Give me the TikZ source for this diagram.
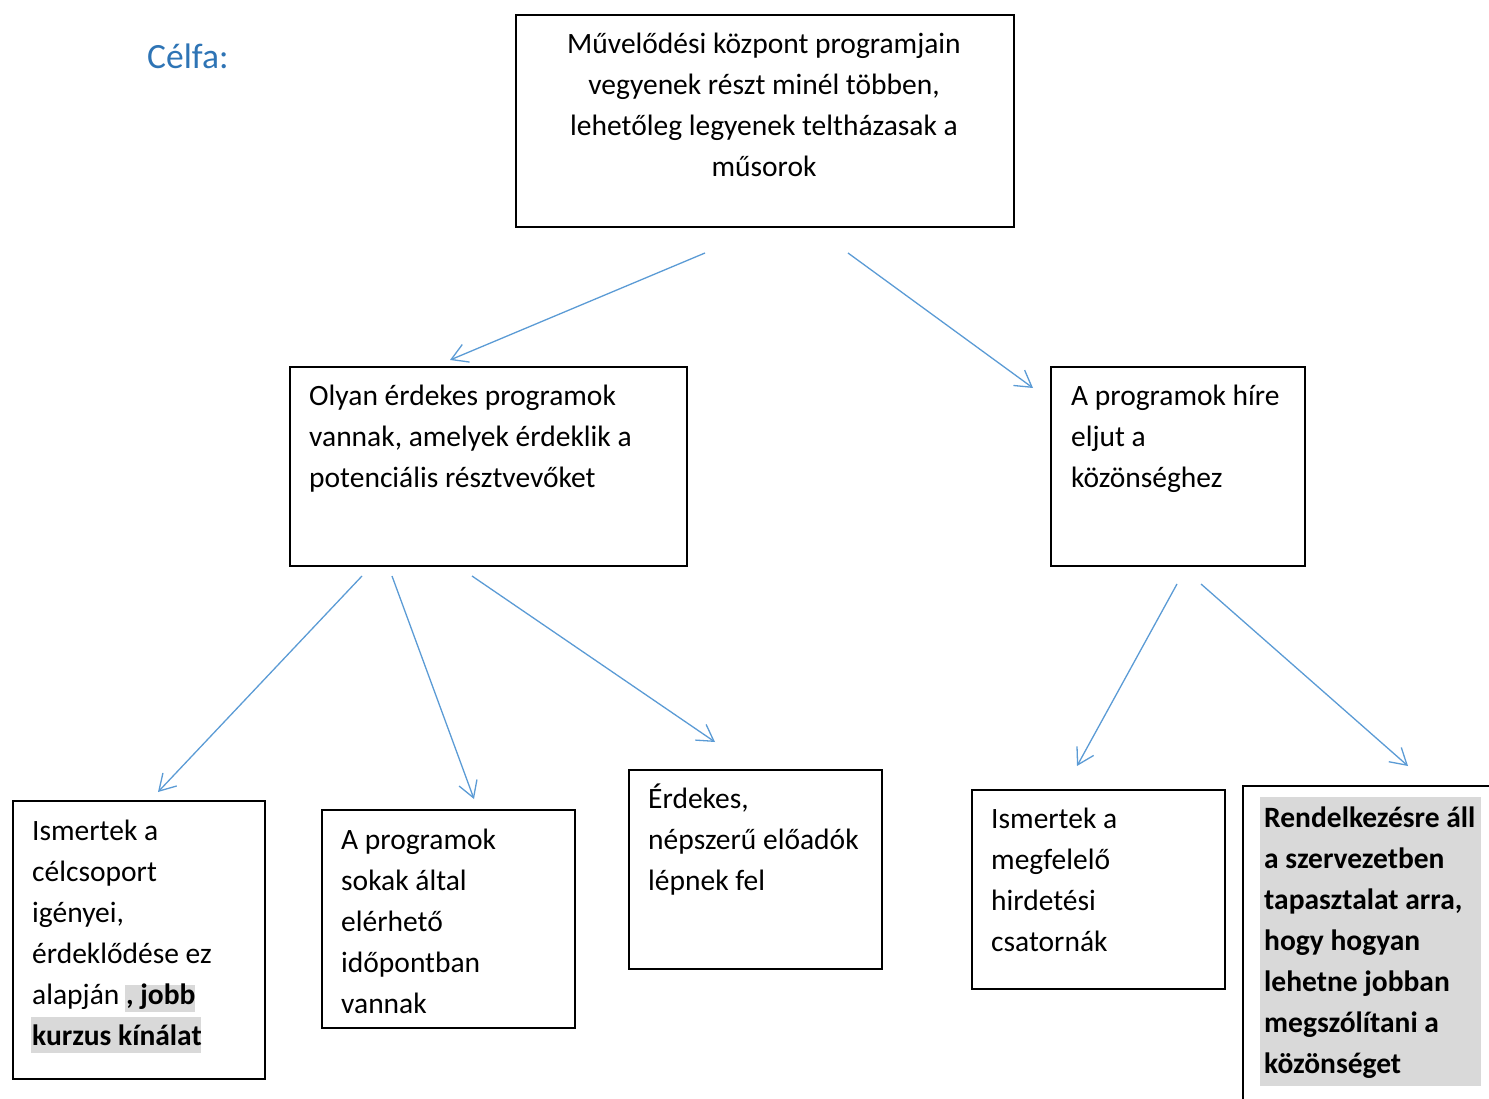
\documentclass[tikz,border=0pt]{standalone}
\usepackage{fontspec}
\setmainfont{Carlito}
\usetikzlibrary{arrows.meta,calc}
\definecolor{arrowblue}{HTML}{5B9BD5}
\definecolor{titleblue}{HTML}{2E74B5}
\definecolor{hlgray}{HTML}{D9D9D9}
\tikzset{
  box/.style={draw=black, line width=2pt, rectangle, inner sep=0pt, anchor=north west},
  txt/.style={inner sep=0pt, anchor=base west, align=left, font=\fontsize{29.5}{41}\selectfont},
  ctxt/.style={inner sep=0pt, anchor=base, align=center, font=\fontsize{29.5}{41}\selectfont},
  conn/.style={draw=arrowblue, line width=1.3pt, -{Straight Barb[length=16pt,width=19pt,line width=1.3pt]}}
}
\begin{document}
\begin{tikzpicture}[x=1pt,y=-1pt]
\useasboundingbox (0,0) rectangle (1489,1099);
% title
\node[inner sep=0pt, anchor=base west, text=titleblue, font=\fontsize{35.5}{42}\selectfont] (title) at (147,69) {Célfa:};
% boxes
\node[box, minimum width=498pt, minimum height=212pt] (top) at (515,14) {};
\node[box, minimum width=397pt, minimum height=199pt] (ml) at (289,366) {};
\node[box, minimum width=254pt, minimum height=199pt] (mr) at (1050,366) {};
\node[box, minimum width=252pt, minimum height=278pt] (b1) at (12,800) {};
\node[box, minimum width=253pt, minimum height=218pt] (b2) at (321,809) {};
\node[box, minimum width=253pt, minimum height=199pt] (b3) at (628,769) {};
\node[box, minimum width=253pt, minimum height=199pt] (b4) at (971,789) {};
\coordinate (b5bl) at (1243,1099);
\coordinate (b5tl) at (1243,786);
\coordinate (b5tr) at (1489,786);
\draw[line width=2pt] (b5bl) -- (b5tl) -- (b5tr);
% highlights
\fill[hlgray] (125,985) rectangle (195,1012);
\fill[hlgray] (31,1017) rectangle (201,1053);
\fill[hlgray] (1260,797) rectangle (1481,1086);
% texts (anchored at the baseline of the last line)
\node[ctxt] (ttop) at (764,177) {Művelődési központ programjain\\vegyenek részt minél többen,\\lehetőleg legyenek teltházasak a\\műsorok};
\node[txt] (tml) at (309,487) {Olyan érdekes programok\\vannak, amelyek érdeklik a\\potenciális résztvevőket};
\node[txt] (tmr) at (1071,487) {A programok híre\\eljut a\\közönséghez};
\node[txt] (tb1) at (32,1045) {Ismertek a\\célcsoport\\igényei,\\érdeklődése ez\\alapján \textbf{, jobb}\\\textbf{kurzus kínálat}};
\node[txt] (tb2) at (341,1013) {A programok\\sokak által\\elérhető\\időpontban\\vannak};
\node[txt] (tb3) at (648,890) {Érdekes,\\népszerű előadók\\lépnek fel};
\node[txt] (tb4) at (991,951) {Ismertek a\\megfelelő\\hirdetési\\csatornák};
\node[txt, font=\fontsize{29.5}{41}\selectfont\bfseries] (tb5) at (1264,1073) {Rendelkezésre áll\\a szervezetben\\tapasztalat arra,\\hogy hogyan\\lehetne jobban\\megszólítani a\\közönséget};
% connector endpoints
\coordinate (a1s) at (705,253); \coordinate (a1e) at (450,360);
\coordinate (a2s) at (848,253); \coordinate (a2e) at (1033,388);
\coordinate (a3s) at (362,576); \coordinate (a3e) at (158,792);
\coordinate (a4s) at (392,576); \coordinate (a4e) at (474,799);
\coordinate (a5s) at (472,576); \coordinate (a5e) at (715,742);
\coordinate (a6s) at (1177,584); \coordinate (a6e) at (1077,766);
\coordinate (a7s) at (1201,584); \coordinate (a7e) at (1408,766);
\draw[conn] (a1s) -- (a1e);
\draw[conn] (a2s) -- (a2e);
\draw[conn] (a3s) -- (a3e);
\draw[conn] (a4s) -- (a4e);
\draw[conn] (a5s) -- (a5e);
\draw[conn] (a6s) -- (a6e);
\draw[conn] (a7s) -- (a7e);
\end{tikzpicture}
\end{document}
